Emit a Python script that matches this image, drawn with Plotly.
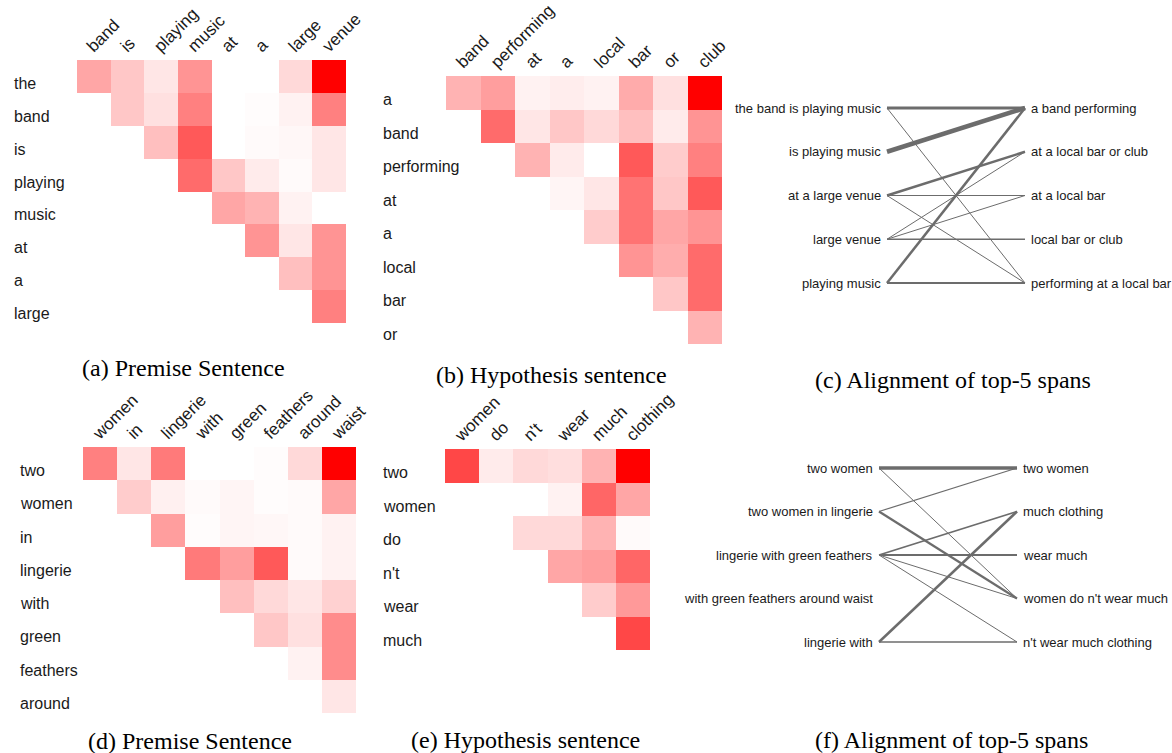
import plotly.graph_objects as go

W, H = 1172, 753

# ---------------- data ----------------
# (a) premise sentence span attention (upper triangle, row i starts at column i)
a_rows = ["the", "band", "is", "playing", "music", "at", "a", "large"]
a_cols = ["band", "is", "playing", "music", "at", "a", "large", "venue"]
a_vals = [
    [0.35, 0.22, 0.10, 0.42, 0.00, 0.00, 0.15, 1.00],
    [0.22, 0.12, 0.50, 0.00, 0.01, 0.05, 0.50],
    [0.25, 0.65, 0.00, 0.02, 0.03, 0.10],
    [0.58, 0.22, 0.08, 0.02, 0.10],
    [0.35, 0.30, 0.05, 0.00],
    [0.42, 0.10, 0.42],
    [0.25, 0.42],
    [0.50],
]

# (b) hypothesis sentence
b_rows = ["a", "band", "performing", "at", "a", "local", "bar", "or"]
b_cols = ["band", "performing", "at", "a", "local", "bar", "or", "club"]
b_vals = [
    [0.30, 0.38, 0.05, 0.07, 0.05, 0.33, 0.12, 1.00],
    [0.58, 0.10, 0.22, 0.15, 0.25, 0.08, 0.42],
    [0.30, 0.08, 0.00, 0.65, 0.20, 0.50],
    [0.04, 0.10, 0.55, 0.22, 0.65],
    [0.20, 0.55, 0.35, 0.42],
    [0.42, 0.32, 0.58],
    [0.22, 0.58],
    [0.30],
]

# (c) alignment of top-5 spans
c_left = ["the band is playing music", "is playing music", "at a large venue",
          "large venue", "playing music"]
c_right = ["a band performing", "at a local bar or club", "at a local bar",
           "local bar or club", "performing at a local bar"]
c_src = [0, 0, 1, 2, 2, 2, 3, 3, 3, 4, 4]
c_tgt = [0, 4, 0, 1, 2, 4, 1, 2, 3, 0, 4]
c_w = [3.0, 1.0, 4.5, 2.5, 1.2, 1.0, 1.0, 1.0, 1.3, 2.5, 1.8]

# (d) premise sentence
d_rows = ["two", "women", "in", "lingerie", "with", "green", "feathers", "around"]
d_cols = ["women", "in", "lingerie", "with", "green", "feathers", "around", "waist"]
d_vals = [
    [0.50, 0.10, 0.52, 0.00, 0.00, 0.01, 0.15, 1.00],
    [0.20, 0.06, 0.02, 0.04, 0.01, 0.02, 0.35],
    [0.38, 0.01, 0.04, 0.03, 0.02, 0.05],
    [0.52, 0.38, 0.65, 0.02, 0.05],
    [0.25, 0.15, 0.10, 0.18],
    [0.22, 0.12, 0.45],
    [0.05, 0.45],
    [0.10],
]

# (e) hypothesis sentence
e_rows = ["two", "women", "do", "n't", "wear", "much"]
e_cols = ["women", "do", "n't", "wear", "much", "clothing"]
e_vals = [
    [0.72, 0.08, 0.15, 0.13, 0.30, 1.00],
    [0.00, 0.00, 0.05, 0.60, 0.35],
    [0.15, 0.15, 0.30, 0.02],
    [0.35, 0.38, 0.60],
    [0.20, 0.40],
    [0.72],
]

# (f) alignment of top-5 spans
f_left = ["two women", "two women in lingerie", "lingerie with green feathers",
          "with green feathers around waist", "lingerie with"]
f_right = ["two women", "much clothing", "wear much", "women do n't wear much",
           "n't wear much clothing"]
f_src = [0, 0, 1, 1, 2, 2, 2, 2, 4, 4]
f_tgt = [0, 3, 0, 3, 1, 2, 3, 4, 1, 4]
f_w = [3.5, 1.0, 1.2, 2.2, 1.8, 1.8, 1.0, 1.0, 2.5, 1.5]

captions = ["(a) Premise Sentence", "(b) Hypothesis sentence", "(c) Alignment of top-5 spans",
            "(d) Premise Sentence", "(e) Hypothesis sentence", "(f) Alignment of top-5 spans"]

# ---------------- layout helpers ----------------
SANS = "Liberation Sans, Arial, Helvetica, sans-serif"
SERIF = "Liberation Serif, Times New Roman, serif"


def px(x):
    return x / W


def py(y):
    return 1 - y / H


fig = go.Figure()
layout = dict(width=W, height=H, margin=dict(l=0, r=0, t=0, b=0, pad=0, autoexpand=False),
              paper_bgcolor="white", plot_bgcolor="white", showlegend=False)
annotations = []

heat_panels = [
    # (idx, rows, cols, vals, box x0,x1,y0,y1 in px, row-label x)
    (1, a_rows, a_cols, a_vals, (77, 346, 60, 323), 12),
    (2, b_rows, b_cols, b_vals, (446, 722, 76, 344), 381),
    (4, d_rows, d_cols, d_vals, (83, 356, 447, 713), 18),
    (5, e_rows, e_cols, e_vals, (445, 650, 449, 650), 381),
]

for idx, rows, cols, vals, (x0, x1, y0, y1), lx in heat_panels:
    n = len(cols)
    z = [[None] * i + list(r) for i, r in enumerate(vals)]
    xa = "x" if idx == 1 else f"x{idx}"
    ya = "y" if idx == 1 else f"y{idx}"
    fig.add_trace(go.Heatmap(
        z=z, x=list(range(n)), y=list(range(len(rows))),
        zmin=0, zmax=1, colorscale=[[0, "rgb(255,255,255)"], [1, "rgb(255,0,0)"]],
        showscale=False, hoverongaps=False, xaxis=xa, yaxis=ya))
    layout["xaxis" if idx == 1 else f"xaxis{idx}"] = dict(
        domain=[px(x0), px(x1)], range=[-0.5, n - 0.5], side="top",
        tickvals=list(range(n)), ticktext=cols, tickangle=-45, ticklabelshift=-6,
        tickfont=dict(family=SANS, size=17, color="#1a1a1a"), automargin=False,
        showgrid=False, zeroline=False, showline=False, ticks="",
        anchor=ya, fixedrange=True)
    layout["yaxis" if idx == 1 else f"yaxis{idx}"] = dict(
        domain=[py(y1), py(y0)], range=[len(rows) - 0.5, -0.5], automargin=False,
        showticklabels=False, showgrid=False, zeroline=False, showline=False,
        ticks="", anchor=xa, fixedrange=True)
    for i, r in enumerate(rows):
        annotations.append(dict(
            x=px(lx), xref="paper", xanchor="left", y=i, yref=ya, yanchor="middle",
            yshift=-7, text=r, showarrow=False,
            font=dict(family=SANS, size=16, color="#1a1a1a")))

align_panels = [
    (3, c_left, c_right, c_src, c_tgt, c_w, (887, 1025, 108, 283)),
    (6, f_left, f_right, f_src, f_tgt, f_w, (879, 1017, 468, 642)),
]
for idx, left, right, src, tgt, wts, (x0, x1, y0, y1) in align_panels:
    xa, ya = f"x{idx}", f"y{idx}"
    sx = (x1 - x0)
    sy = (y1 - y0) / (len(left) - 1)
    padx, pady = 10, 10
    for s, t, w in zip(src, tgt, wts):
        fig.add_trace(go.Scatter(
            x=[0, 1], y=[s, t], mode="lines", xaxis=xa, yaxis=ya,
            line=dict(color="rgb(108,108,108)", width=w), hoverinfo="skip"))
    layout[f"xaxis{idx}"] = dict(
        domain=[px(x0 - padx), px(x1 + padx)], automargin=False,
        range=[-padx / sx, 1 + padx / sx], visible=False, anchor=ya, fixedrange=True)
    layout[f"yaxis{idx}"] = dict(
        domain=[py(y1 + pady), py(y0 - pady)], automargin=False,
        range=[len(left) - 1 + pady / sy, -pady / sy], visible=False, anchor=xa,
        fixedrange=True)
    for i, lab in enumerate(left):
        annotations.append(dict(
            x=0, xref=xa, y=i, yref=ya, xanchor="right", yanchor="middle", xshift=-4,
            text=lab, showarrow=False, font=dict(family=SANS, size=13, color="#1a1a1a")))
    for i, lab in enumerate(right):
        annotations.append(dict(
            x=1, xref=xa, y=i, yref=ya, xanchor="left", yanchor="middle", xshift=4,
            text=lab, showarrow=False, font=dict(family=SANS, size=13, color="#1a1a1a")))

cap_pos = [(183, 368), (551, 375), (953, 380), (190, 741), (525, 740), (951, 740)]
for txt, (cx, cy) in zip(captions, cap_pos):
    annotations.append(dict(
        x=px(cx), y=py(cy), xref="paper", yref="paper", xanchor="center",
        yanchor="middle", text=txt, showarrow=False,
        font=dict(family=SERIF, size=24, color="black")))

layout["annotations"] = annotations
fig.update_layout(**layout)
fig.write_html(
    "out.html",
    config={"responsive": False, "displayModeBar": False},
    post_script="document.body.style.margin='0';document.body.style.overflow='hidden';"
                "document.documentElement.style.overflow='hidden';",
)
